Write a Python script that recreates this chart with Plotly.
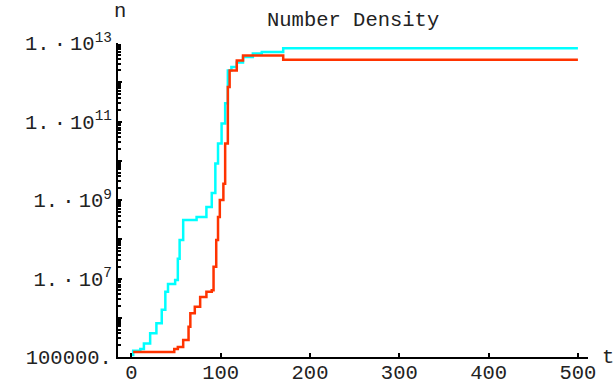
import plotly.graph_objects as go

# Data
cyan_t = [0, 2, 10, 14, 21, 28, 34, 38, 41, 49, 52, 54, 58, 73, 84, 90, 94, 97, 101, 105, 108, 112, 118, 125, 136, 146, 170, 500]
cyan_n = [1.12e5, 1.45e5, 1.6e5, 2.2e5, 4.0e5, 7.2e5, 1.6e6, 4.6e6, 7.2e6, 9.1e6, 3.2e7, 9.5e7, 3.1e8, 3.7e8, 6.6e8,
          1.5e9, 8.5e9, 2.75e10, 8.9e10, 2.9e11, 2.0e12, 2.45e12, 3.2e12, 4.4e12, 5.4e12, 5.9e12, 7.4e12, 7.4e12]

red_t = [2, 48, 52, 58, 64, 66, 71, 77, 84, 90, 92, 95, 97, 99, 103, 105, 108, 110, 118, 125, 170, 500]
red_n = [1.35e5, 1.6e5, 1.8e5, 2.7e5, 5.9e5, 1.3e6, 1.9e6, 3.4e6, 4.6e6, 5.0e6, 2.0e7, 9.5e7, 3.7e8, 1.0e9,
         2.6e9, 2.75e10, 7.6e11, 2.0e12, 3.6e12, 4.8e12, 3.76e12, 3.76e12]

x_ticks = [0, 100, 200, 300, 400, 500]
y_exps = [5, 6, 7, 8, 9, 10, 11, 12, 13]
y_labels = ["100000.", "", "1.\u2009·\u200910<sup>7</sup>", "", "1.\u2009·\u200910<sup>9</sup>", "",
            "1.\u2009·\u200910<sup>11</sup>", "", "1.\u2009·\u200910<sup>13</sup>"]

FONT = "Liberation Mono, Courier New, monospace"
FS = 20.5

fig = go.Figure()
fig.add_trace(go.Scatter(x=cyan_t, y=cyan_n, mode="lines", line=dict(color="#00FFFF", width=2.5, shape="hv")))
fig.add_trace(go.Scatter(x=red_t, y=red_n, mode="lines", line=dict(color="#FF3300", width=2.5, shape="hv")))

fig.update_layout(
    width=615, height=384,
    margin=dict(l=118, r=27, t=43, b=27),
    paper_bgcolor="white", plot_bgcolor="white",
    showlegend=False,
    font=dict(family=FONT, size=FS, color="#222"),
    xaxis=dict(range=[-15, 511.3], tickvals=x_ticks, ticks="inside", ticklen=4, tickwidth=2,
               tickcolor="black", showline=True, linecolor="black", linewidth=2, automargin=False,
               ticklabelstandoff=-5,
               showgrid=False, zeroline=False, tickfont=dict(family=FONT, size=FS)),
    yaxis=dict(type="log", range=[5, 13], tickvals=[10 ** e for e in y_exps], ticktext=y_labels,
               ticks="inside", ticklen=4, tickwidth=2, tickcolor="black", automargin=False,
               showline=True, linecolor="black", linewidth=2, showgrid=False, zeroline=False,
               tickfont=dict(family=FONT, size=FS),
               minor=dict(ticks="inside", ticklen=3, tickwidth=1.5, tickcolor="black", dtick="D1")),
    annotations=[
        dict(text="Number Density", xref="paper", yref="paper", x=0.5, y=1.073, showarrow=False,
             xanchor="center", yanchor="middle", font=dict(family=FONT, size=FS)),
        dict(text="n", xref="paper", yref="paper", x=0.004, y=1.099, showarrow=False,
             xanchor="center", yanchor="middle", font=dict(family=FONT, size=FS)),
        dict(text="t", xref="paper", yref="paper", x=1.043, y=0.0, showarrow=False,
             xanchor="center", yanchor="middle", font=dict(family=FONT, size=FS)),
    ],
)

fig.write_html("out.html")
